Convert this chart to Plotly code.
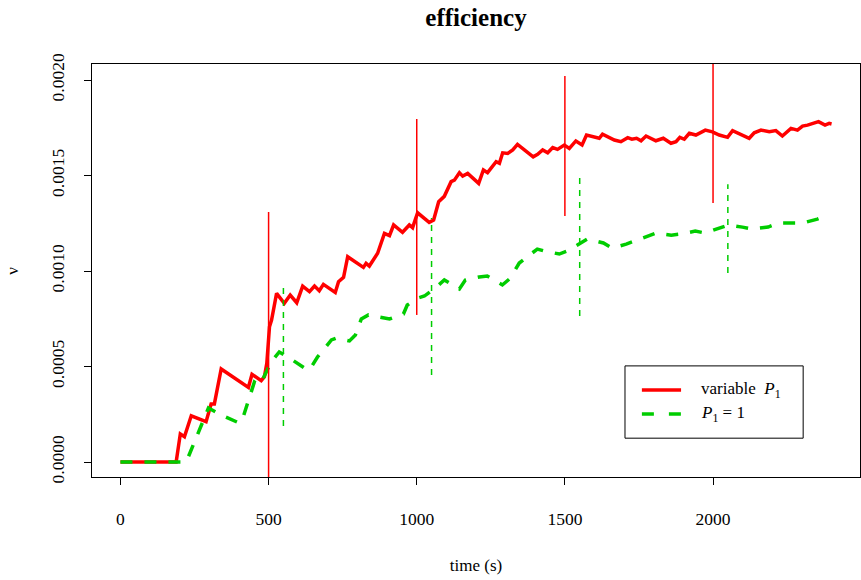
import plotly.graph_objects as go

# ---- data ----
red_t = [0, 188, 202, 216, 239, 289, 306, 317, 340, 432, 444, 463, 475, 486, 494, 503, 510, 527, 553, 573,
         595, 615, 638, 655, 671, 685, 725, 736, 753, 767, 820, 829, 840, 868, 891, 908, 922, 952, 975, 986,
         1003, 1042, 1057, 1074, 1093, 1116, 1127, 1144, 1155, 1172, 1209, 1225, 1239, 1268, 1279, 1290, 1307,
         1324, 1340, 1393, 1408, 1425, 1442, 1459, 1475, 1498, 1515, 1537, 1558, 1573, 1593, 1616, 1627, 1667,
         1689, 1712, 1726, 1742, 1757, 1774, 1807, 1832, 1858, 1875, 1888, 1903, 1920, 1942, 1974, 1998, 2021,
         2049, 2066, 2122, 2139, 2162, 2190, 2212, 2234, 2263, 2285, 2302, 2319, 2336, 2356, 2378, 2392, 2400]
red_v = [0, 0, 0.147, 0.132, 0.242, 0.211, 0.304, 0.304, 0.487, 0.391, 0.459, 0.438, 0.426, 0.447, 0.517,
         0.708, 0.743, 0.883, 0.831, 0.874, 0.834, 0.921, 0.892, 0.921, 0.897, 0.930, 0.888, 0.944, 0.967,
         1.075, 1.019, 1.040, 1.026, 1.093, 1.197, 1.185, 1.241, 1.203, 1.241, 1.227, 1.305, 1.255, 1.267,
         1.363, 1.391, 1.468, 1.476, 1.515, 1.497, 1.511, 1.459, 1.529, 1.515, 1.572, 1.564, 1.619, 1.616,
         1.634, 1.663, 1.598, 1.611, 1.634, 1.619, 1.646, 1.637, 1.660, 1.642, 1.681, 1.660, 1.712, 1.703,
         1.695, 1.717, 1.686, 1.677, 1.698, 1.690, 1.695, 1.682, 1.707, 1.682, 1.695, 1.669, 1.677, 1.700,
         1.690, 1.721, 1.712, 1.738, 1.729, 1.712, 1.700, 1.735, 1.695, 1.724, 1.738, 1.729, 1.735, 1.707,
         1.747, 1.738, 1.759, 1.764, 1.773, 1.782, 1.764, 1.773, 1.770]

green_t = [0, 222, 297, 341, 401, 412, 452, 466, 479, 509, 536, 570, 621, 638, 665, 712, 729, 773, 793, 813,
           837, 884, 908, 955, 968, 1005, 1026, 1066, 1093, 1144, 1164, 1211, 1238, 1289, 1316, 1346, 1370,
           1407, 1430, 1481, 1508, 1549, 1576, 1630, 1660, 1707, 1734, 1775, 1808, 1859, 1893, 1940, 1974,
           2021, 2052, 2099, 2132, 2186, 2220, 2267, 2301, 2352, 2392]
green_v = [0, 0, 0.283, 0.246, 0.204, 0.225, 0.419, 0.403, 0.429, 0.524, 0.576, 0.545, 0.492, 0.482, 0.550,
           0.639, 0.649, 0.634, 0.665, 0.749, 0.770, 0.759, 0.749, 0.775, 0.822, 0.859, 0.869, 0.916, 0.953,
           0.906, 0.953, 0.969, 0.974, 0.927, 0.963, 1.042, 1.073, 1.115, 1.105, 1.089, 1.105, 1.141, 1.168,
           1.147, 1.120, 1.141, 1.157, 1.183, 1.199, 1.188, 1.194, 1.209, 1.199, 1.225, 1.241, 1.230, 1.220,
           1.230, 1.251, 1.251, 1.251, 1.272, 1.295]

# interval bars (time, low, high), values in 1e-3
red_bar_t = [500, 1000, 1500, 2000]
red_bar_lo = [-0.10, 0.770, 1.288, 1.356]
red_bar_hi = [1.309, 1.796, 2.021, 2.100]
green_bar_t = [550, 1050, 1550, 2050]
green_bar_lo = [0.188, 0.455, 0.764, 0.990]
green_bar_hi = [0.927, 1.277, 1.508, 1.455]

x_ticks = [0, 500, 1000, 1500, 2000]
y_ticks = [0.0, 0.0005, 0.0010, 0.0015, 0.0020]

legend_labels = ["variable  <i>P</i><sub>1</sub>", "<i>P</i><sub>1</sub> = 1"]

SCALE = 1e-3
RED = "#FF0000"
GREEN = "#00CD00"
FONT = "Liberation Serif"


def bars(ts, lo, hi):
    xs, ys = [], []
    for t, a, b in zip(ts, lo, hi):
        xs += [t, t, None]
        ys += [a * SCALE, b * SCALE, None]
    return xs, ys


fig = go.Figure()
fig.add_trace(go.Scatter(x=red_t, y=[v * SCALE for v in red_v], mode="lines",
                         line=dict(color=RED, width=3.5), name=legend_labels[0], showlegend=False))
fig.add_trace(go.Scatter(x=green_t, y=[v * SCALE for v in green_v], mode="lines",
                         line=dict(color=GREEN, width=3.5, dash="12px,12px"), name=legend_labels[1],
                         showlegend=False))
bx, by = bars(red_bar_t, red_bar_lo, red_bar_hi)
fig.add_trace(go.Scatter(x=bx, y=by, mode="lines", line=dict(color=RED, width=1.5),
                         showlegend=False, hoverinfo="skip"))
gx, gy = bars(green_bar_t, green_bar_lo, green_bar_hi)
fig.add_trace(go.Scatter(x=gx, y=gy, mode="lines", line=dict(color=GREEN, width=1.5, dash="6px,6px"),
                         showlegend=False, hoverinfo="skip"))

# legend box drawn in paper coordinates (plot-area relative)
lg_x0, lg_x1, lg_y0, lg_y1 = 0.694, 0.926, 0.094, 0.269
fig.add_shape(type="rect", xref="paper", yref="paper", x0=lg_x0, x1=lg_x1, y0=lg_y0, y1=lg_y1,
              line=dict(color="black", width=1), fillcolor="white", layer="above")
rows = [(0.2107, RED, "solid"), (0.1525, GREEN, "12px,15px")]
for (yy, col, dsh), lab in zip(rows, legend_labels):
    fig.add_shape(type="line", xref="paper", yref="paper", x0=0.716, x1=0.767, y0=yy, y1=yy,
                  line=dict(color=col, width=3.5, dash=dsh), layer="above")
    fig.add_annotation(xref="paper", yref="paper", x=0.790, y=yy, text=lab, showarrow=False,
                       xanchor="left", yanchor="middle", font=dict(family=FONT, size=17, color="black"))

# y-axis title (rotated annotation so it can sit close to the edge)
fig.add_annotation(xref="paper", yref="paper", x=-0.104, y=0.5, text="ν", textangle=-90,
                   showarrow=False, xanchor="center", yanchor="middle",
                   font=dict(family=FONT, size=17, color="black"))

fig.update_layout(
    width=861, height=580,
    margin=dict(l=92, r=1, t=64, b=103, autoexpand=False),
    paper_bgcolor="white", plot_bgcolor="white",
    font=dict(family=FONT, size=17, color="black"),
    title=dict(text="<b>efficiency</b>", x=0.5, xref="paper", xanchor="center", y=0.9707, yanchor="middle",
               font=dict(family=FONT, size=25)),
    showlegend=False,
)
fig.update_xaxes(range=[-96, 2496], tickvals=x_ticks, ticktext=[str(v) for v in x_ticks],
                 showgrid=False, zeroline=False, showline=True, mirror=True, linecolor="black",
                 linewidth=1, ticks="outside", ticklen=7, tickcolor="black", automargin=False,
                 ticklabelstandoff=19, tickfont=dict(size=17.5),
                 title=dict(text="time (s)", standoff=31, font=dict(size=17)))
fig.update_yaxes(range=[-0.0000785, 0.002084], tickvals=y_ticks,
                 ticktext=[f"{v:.4f}" for v in y_ticks], tickangle=-90,
                 showgrid=False, zeroline=False, showline=True, mirror=True, linecolor="black",
                 linewidth=1, ticks="outside", ticklen=7, tickcolor="black", automargin=False,
                 ticklabelstandoff=13, tickfont=dict(size=17.5))

fig.write_html("out.html", config={"displayModeBar": False},
               post_script="document.body.style.margin='0';")
